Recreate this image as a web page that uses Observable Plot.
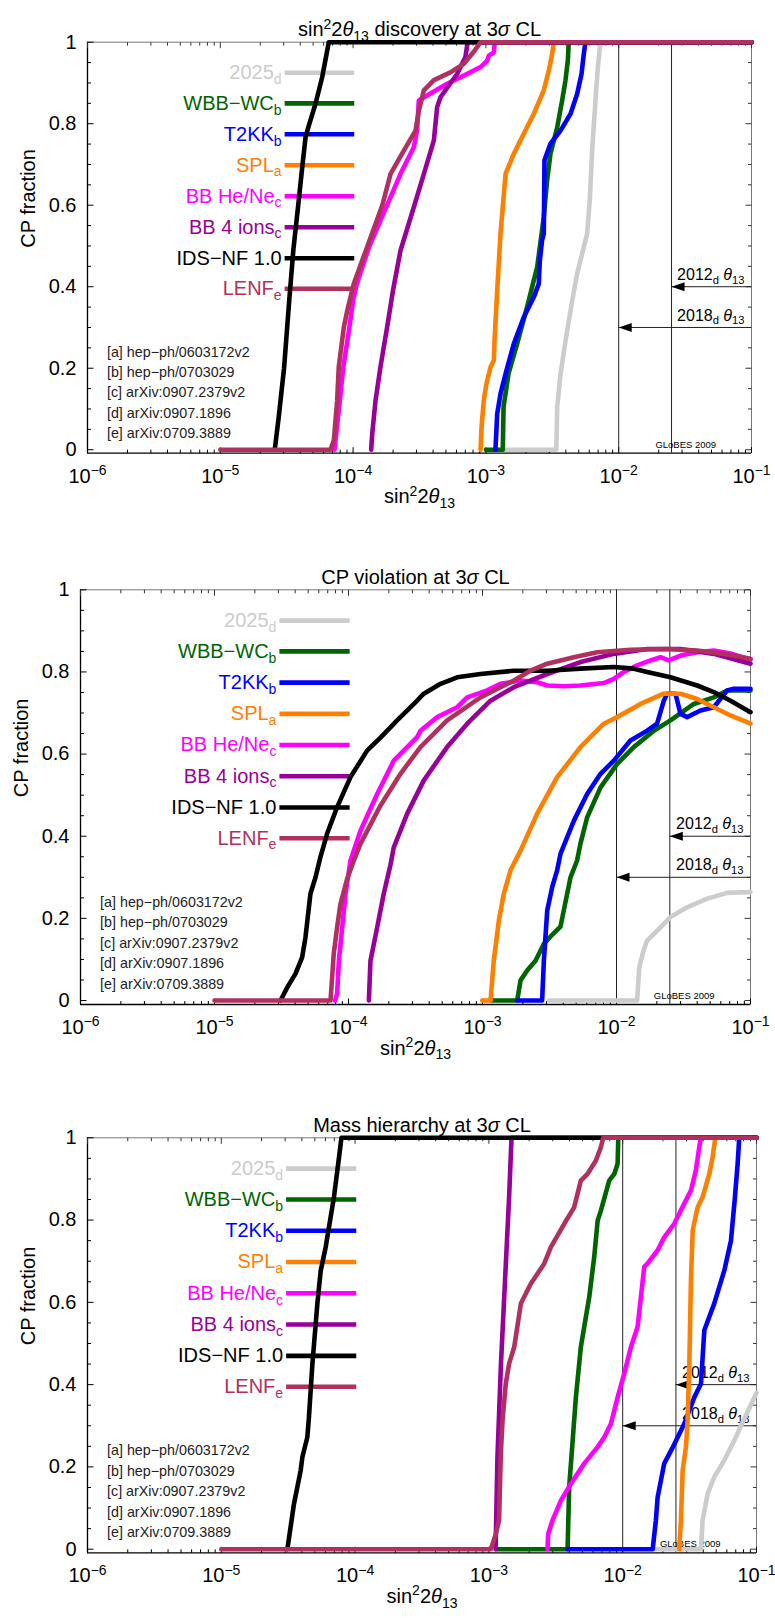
<!DOCTYPE html>
<html><head><meta charset="utf-8">
<script src="https://cdn.jsdelivr.net/npm/d3@7"></script>
<script src="https://cdn.jsdelivr.net/npm/@observablehq/plot@0.6"></script>
<style>
body{margin:0;background:#fff;}
#wrap{position:relative;width:775px;height:1618px;background:#fff;}
</style></head><body><div id="wrap"></div>
<script>
// ---------- series / categories ----------
const seriesNames = ["2025_{d}","WBB−WC_{b}","T2KK_{b}","SPL_{a}","BB He/Ne_{c}","BB 4 ions_{c}","IDS−NF 1.0","LENF_{e}"];
const seriesColors = ["#cccccc","#006400","#0000ff","#ff8000","#ff00ff","#990099","#000000","#b03060"];
const references = ["[a] hep−ph/0603172v2","[b] hep−ph/0703029","[c] arXiv:0907.2379v2","[d] arXiv:0907.1896","[e] arXiv:0709.3889"];
const legendY = [0.925,0.85,0.774,0.698,0.622,0.546,0.47,0.395];
const legendX = [3.05e-5,1.02e-4];
const thetaLimits = [{label:"2012_{d} *θ*_{13}", x:0.025, y:0.4},{label:"2018_{d} *θ*_{13}", x:0.01, y:0.3}];

// ---------- tick labels ----------
const xTickValues = [1e-6,1e-5,1e-4,1e-3,1e-2,1e-1];
const xTickLabels = ["10^{−6}","10^{−5}","10^{−4}","10^{−3}","10^{−2}","10^{−1}"];
const yTickValues = [0,0.2,0.4,0.6,0.8,1];
const yTickLabels = ["0","0.2","0.4","0.6","0.8","1"];

// ---------- data: [log10(sin^2 2θ13), CP fraction] ----------
// sin^2 2θ13 discovery
const disc2025 = [[-2.87,0],[-2.47,0],[-2.463,0.105],[-2.438,0.186],[-2.4,0.268],[-2.35,0.366],[-2.313,0.432],[-2.275,0.481],[-2.25,0.514],[-2.238,0.53],[-2.218,0.612],[-2.2,0.734],[-2.175,0.857],[-2.157,0.939],[-2.137,1],[-1,1]];
const discWBB = [[-3.0,0],[-2.873,0],[-2.867,0.105],[-2.83,0.186],[-2.765,0.26],[-2.69,0.35],[-2.614,0.448],[-2.564,0.571],[-2.539,0.661],[-2.514,0.726],[-2.463,0.791],[-2.426,0.857],[-2.401,0.906],[-2.383,0.955],[-2.376,1],[-1,1]];
const discT2KK = [[-2.928,0],[-2.915,0.088],[-2.89,0.137],[-2.852,0.186],[-2.79,0.26],[-2.715,0.325],[-2.64,0.374],[-2.602,0.407],[-2.594,0.464],[-2.577,0.514],[-2.564,0.53],[-2.559,0.71],[-2.514,0.751],[-2.438,0.783],[-2.363,0.824],[-2.313,0.873],[-2.28,0.922],[-2.263,0.971],[-2.25,1],[-1,1]];
const discSPL = [[-3.04,0],[-3.033,0.055],[-3.016,0.121],[-2.996,0.162],[-2.965,0.203],[-2.94,0.219],[-2.935,0.268],[-2.915,0.391],[-2.89,0.53],[-2.852,0.677],[-2.79,0.726],[-2.715,0.775],[-2.64,0.824],[-2.564,0.882],[-2.526,0.931],[-2.501,0.971],[-2.489,1],[-1,1]];
const discBBHe = [[-4.14,0],[-4.1,0.12],[-4.075,0.2],[-4.035,0.285],[-4.0,0.366],[-3.97,0.41],[-3.88,0.497],[-3.794,0.563],[-3.718,0.62],[-3.643,0.677],[-3.543,0.742],[-3.518,0.783],[-3.505,0.857],[-3.443,0.869],[-3.292,0.898],[-3.166,0.918],[-3.04,0.939],[-2.99,0.955],[-2.978,0.967],[-2.94,0.975],[-2.933,1],[-1,1]];
const discBB4 = [[-3.864,0],[-3.856,0.039],[-3.831,0.121],[-3.794,0.203],[-3.744,0.3],[-3.7,0.39],[-3.643,0.489],[-3.543,0.595],[-3.467,0.677],[-3.392,0.759],[-3.367,0.841],[-3.342,0.865],[-3.217,0.922],[-3.155,0.963],[-3.137,1],[-1,1]];
const discIDS = [[-4.59,0],[-4.56,0.08],[-4.52,0.2],[-4.48,0.37],[-4.45,0.49],[-4.41,0.61],[-4.383,0.693],[-4.358,0.767],[-4.333,0.796],[-4.283,0.849],[-4.233,0.914],[-4.183,1],[-1,1]];
const discLENF = [[-5,0],[-4.17,0],[-4.145,0.023],[-4.12,0.121],[-4.108,0.203],[-4.07,0.3],[-4.045,0.34],[-3.995,0.407],[-3.895,0.497],[-3.78,0.6],[-3.718,0.677],[-3.618,0.734],[-3.53,0.783],[-3.505,0.832],[-3.467,0.882],[-3.392,0.907],[-3.267,0.926],[-3.166,0.947],[-3.09,0.977],[-3.04,1],[-1,1]];

// CP violation
const cpv2025 = [[-2.505,0],[-1.846,0],[-1.84,0.03],[-1.83,0.08],[-1.8,0.12],[-1.771,0.146],[-1.672,0.178],[-1.597,0.203],[-1.473,0.227],[-1.323,0.248],[-1.174,0.262],[-1.0,0.264]];
const cpvWBB = [[-2.94,0],[-2.741,0],[-2.716,0.049],[-2.667,0.073],[-2.604,0.097],[-2.542,0.138],[-2.48,0.16],[-2.418,0.18],[-2.393,0.22],[-2.343,0.30],[-2.294,0.341],[-2.269,0.382],[-2.219,0.446],[-2.119,0.519],[-1.995,0.576],[-1.871,0.617],[-1.721,0.657],[-1.597,0.682],[-1.423,0.722],[-1.274,0.738],[-1.174,0.755],[-1.0,0.755]];
const cpvT2KK = [[-2.741,0],[-2.555,0],[-2.542,0.097],[-2.517,0.219],[-2.48,0.276],[-2.443,0.317],[-2.418,0.357],[-2.318,0.438],[-2.219,0.503],[-2.119,0.552],[-2.02,0.584],[-1.896,0.633],[-1.771,0.657],[-1.697,0.674],[-1.647,0.73],[-1.622,0.747],[-1.56,0.747],[-1.522,0.698],[-1.473,0.69],[-1.373,0.706],[-1.274,0.714],[-1.174,0.755],[-1.125,0.759],[-1.0,0.759]];
const cpvSPL = [[-3.002,0],[-2.94,0],[-2.916,0.097],[-2.878,0.195],[-2.841,0.26],[-2.791,0.317],[-2.716,0.365],[-2.592,0.455],[-2.443,0.544],[-2.269,0.617],[-2.095,0.674],[-1.995,0.69],[-1.821,0.722],[-1.647,0.747],[-1.522,0.747],[-1.398,0.734],[-1.274,0.714],[-1.149,0.694],[-1.0,0.674]];
const cpvBBHe = [[-4.1,0],[-4.085,0.016],[-4.072,0.097],[-4.047,0.178],[-4.022,0.26],[-3.985,0.341],[-3.91,0.414],[-3.786,0.503],[-3.662,0.584],[-3.562,0.617],[-3.488,0.641],[-3.463,0.657],[-3.338,0.69],[-3.189,0.714],[-3.114,0.738],[-2.965,0.755],[-2.866,0.771],[-2.716,0.779],[-2.592,0.775],[-2.517,0.767],[-2.393,0.765],[-2.269,0.767],[-2.095,0.773],[-2.02,0.783],[-1.945,0.80],[-1.846,0.816],[-1.746,0.828],[-1.672,0.836],[-1.61,0.828],[-1.522,0.84],[-1.398,0.848],[-1.274,0.852],[-1.15,0.845],[-1.0,0.83]];
const cpvBB4 = [[-3.848,0],[-3.836,0.097],[-3.786,0.178],[-3.737,0.26],[-3.687,0.33],[-3.662,0.373],[-3.562,0.455],[-3.438,0.536],[-3.264,0.617],[-3.114,0.674],[-2.94,0.73],[-2.766,0.763],[-2.517,0.795],[-2.269,0.824],[-2.02,0.844],[-1.771,0.856],[-1.522,0.856],[-1.274,0.844],[-1.0,0.82]];
const cpvIDS = [[-4.507,0],[-4.457,0.032],[-4.396,0.065],[-4.346,0.105],[-4.321,0.154],[-4.284,0.26],[-4.246,0.30],[-4.209,0.35],[-4.16,0.406],[-4.085,0.471],[-3.985,0.544],[-3.86,0.609],[-3.761,0.64],[-3.637,0.682],[-3.512,0.722],[-3.438,0.747],[-3.313,0.771],[-3.189,0.787],[-3.015,0.795],[-2.766,0.803],[-2.517,0.803],[-2.269,0.808],[-2.02,0.812],[-1.871,0.808],[-1.771,0.80],[-1.597,0.787],[-1.398,0.767],[-1.274,0.751],[-1.149,0.73],[-1.0,0.702]];
const cpvLENF = [[-5,0],[-4.134,0],[-4.122,0.057],[-4.11,0.114],[-4.085,0.178],[-4.06,0.235],[-4.01,0.296],[-3.96,0.341],[-3.91,0.382],[-3.761,0.475],[-3.612,0.552],[-3.463,0.617],[-3.264,0.682],[-3.015,0.738],[-2.766,0.779],[-2.642,0.803],[-2.517,0.82],[-2.318,0.836],[-2.144,0.848],[-1.896,0.854],[-1.622,0.856],[-1.398,0.852],[-1.199,0.844],[-1.0,0.832]];

// Mass hierarchy
const mh2025 = [[-1.776,0],[-1.415,0],[-1.403,0.07],[-1.365,0.135],[-1.316,0.175],[-1.241,0.216],[-1.166,0.264],[-1.116,0.3],[-1.05,0.345],[-1.0,0.38]];
const mhWBB = [[-2.948,0],[-2.412,0],[-2.4,0.151],[-2.375,0.26],[-2.35,0.369],[-2.313,0.491],[-2.25,0.613],[-2.213,0.71],[-2.187,0.799],[-2.163,0.823],[-2.101,0.896],[-2.063,0.912],[-2.038,0.937],[-2.033,1],[-1,1]];
const mhT2KK = [[-2.412,0],[-1.776,0],[-1.752,0.07],[-1.739,0.126],[-1.69,0.208],[-1.63,0.245],[-1.54,0.305],[-1.465,0.369],[-1.415,0.402],[-1.39,0.532],[-1.316,0.597],[-1.241,0.677],[-1.191,0.75],[-1.161,0.856],[-1.141,0.937],[-1.129,1],[-1,1]];
const mhSPL = [[-1.577,0],[-1.565,0.07],[-1.552,0.191],[-1.527,0.25],[-1.515,0.313],[-1.502,0.451],[-1.49,0.653],[-1.477,0.775],[-1.44,0.831],[-1.403,0.856],[-1.353,0.912],[-1.328,0.953],[-1.308,1],[-1,1]];
const mhBBHe = [[-2.562,0],[-2.557,0.037],[-2.525,0.07],[-2.462,0.118],[-2.387,0.159],[-2.288,0.208],[-2.188,0.248],[-2.138,0.272],[-2.088,0.305],[-2.038,0.369],[-1.989,0.426],[-1.939,0.491],[-1.889,0.54],[-1.864,0.613],[-1.839,0.686],[-1.815,0.694],[-1.74,0.726],[-1.69,0.758],[-1.615,0.791],[-1.54,0.84],[-1.49,0.872],[-1.453,0.921],[-1.428,0.977],[-1.415,1],[-1,1]];
const mhBB4 = [[-2.95,0],[-2.936,0.224],[-2.91,0.45],[-2.88,0.65],[-2.849,0.856],[-2.831,1],[-1,1]];
const mhIDS = [[-4.506,0],[-4.457,0.11],[-4.407,0.191],[-4.394,0.224],[-4.357,0.272],[-4.345,0.321],[-4.319,0.451],[-4.282,0.597],[-4.257,0.677],[-4.22,0.734],[-4.158,0.856],[-4.12,0.953],[-4.102,1],[-1,1]];
const mhLENF = [[-5,0],[-2.986,0],[-2.948,0.037],[-2.924,0.07],[-2.911,0.232],[-2.898,0.313],[-2.874,0.402],[-2.849,0.451],[-2.811,0.491],[-2.761,0.597],[-2.687,0.645],[-2.587,0.694],[-2.537,0.734],[-2.437,0.791],[-2.363,0.831],[-2.313,0.896],[-2.263,0.912],[-2.2,0.945],[-2.163,0.977],[-2.146,1],[-1,1]];

const FONT = '"Liberation Sans", Arial, Helvetica, sans-serif';
const SVGNS = "http://www.w3.org/2000/svg";

// rich text: ^{sup}, _{sub}, *italic*
function richify(el) {
  const s = el.textContent;
  if (!/(\^\{|_\{|\*)/.test(s)) return;
  const fs = parseFloat(getComputedStyle(el).fontSize) || 16;
  const parts = s.split(/(\^\{[^}]*\}|_\{[^}]*\}|\*[^*]*\*)/).filter(p => p !== "");
  el.textContent = "";
  el.setAttribute("style", (el.getAttribute("style") || "") + ";white-space:pre");
  let cur = 0;
  for (const p of parts) {
    const t = document.createElementNS(SVGNS, "tspan");
    let target = 0, str = p;
    if (p.startsWith("^{")) { target = -0.38 * fs; str = p.slice(2, -1); t.setAttribute("font-size", 0.7 * fs); }
    else if (p.startsWith("_{")) { target = 0.24 * fs; str = p.slice(2, -1); t.setAttribute("font-size", 0.7 * fs); }
    else if (p.startsWith("*")) { str = p.slice(1, -1); t.setAttribute("font-style", "italic"); }
    if (Math.abs(target - cur) > 1e-9) { t.setAttribute("dy", target - cur); cur = target; }
    t.textContent = str;
    el.appendChild(t);
  }
}

const tickSym = (dx, dy) => ({draw(ctx) { ctx.moveTo(0, 0); ctx.lineTo(dx, dy); }});
const arrowHead = {draw(ctx) { ctx.moveTo(0, 0); ctx.lineTo(13, -4.5); ctx.lineTo(13, 4.5); ctx.closePath(); }};

function panel(p) {
  const X0 = 1e-6, X1 = 0.1, Y0 = p.yMin, Y1 = 1;
  const rows = [];
  p.series.forEach((pts, i) => pts.forEach(([lx, y]) => rows.push({series: seriesNames[i], x: 10 ** lx, y})));
  const legRows = [];
  seriesNames.forEach((s, i) => legendX.forEach(x => legRows.push({series: s, x, y: legendY[i]})));
  const minorX = [];
  for (let e = -6; e < -1; e++) for (let k = 2; k < 10; k++) minorX.push(k * 10 ** e);
  const minorY = d3.range(1, 20).map(i => i * 0.05).filter(v => Math.abs(v * 5 - Math.round(v * 5)) > 1e-6);

  const svg = Plot.plot({
    width: 775, height: p.height,
    marginTop: p.marginTop, marginBottom: p.marginBottom, marginLeft: p.marginLeft, marginRight: p.marginRight,
    x: {type: "log", domain: [X0, X1], axis: null},
    y: {domain: [Y0, Y1], axis: null},
    color: {domain: seriesNames, range: seriesColors},
    style: {fontFamily: FONT, background: "transparent", overflow: "visible", color: "black"},
    marks: [
      // frame
      Plot.ruleY([Y1], {stroke: "#777", strokeWidth: 1}),
      Plot.ruleX([X1], {stroke: "#777", strokeWidth: 1}),
      Plot.ruleX([X0], {stroke: "black", strokeWidth: 1.3}),
      Plot.ruleY([Y0], {stroke: "black", strokeWidth: 1.3}),
      // ticks
      Plot.dot(xTickValues, {x: d => d, y: () => Y0, symbol: tickSym(0, -6), stroke: "black", fill: "none", strokeWidth: 1}),
      Plot.dot(minorX, {x: d => d, y: () => Y0, symbol: tickSym(0, -3.5), stroke: "black", fill: "none", strokeWidth: 1}),
      Plot.dot(xTickValues, {x: d => d, y: () => Y1, symbol: tickSym(0, 6), stroke: "#333", fill: "none", strokeWidth: 1}),
      Plot.dot(minorX, {x: d => d, y: () => Y1, symbol: tickSym(0, 3.5), stroke: "#333", fill: "none", strokeWidth: 1}),
      Plot.dot(yTickValues, {x: () => X0, y: d => d, symbol: tickSym(6, 0), stroke: "black", fill: "none", strokeWidth: 1}),
      Plot.dot(minorY, {x: () => X0, y: d => d, symbol: tickSym(3.5, 0), stroke: "black", fill: "none", strokeWidth: 1}),
      Plot.dot(yTickValues, {x: () => X1, y: d => d, symbol: tickSym(-6, 0), stroke: "#333", fill: "none", strokeWidth: 1}),
      Plot.dot(minorY, {x: () => X1, y: d => d, symbol: tickSym(-3.5, 0), stroke: "#333", fill: "none", strokeWidth: 1}),
      // tick labels
      Plot.text(xTickValues, {x: d => d, y: () => Y0, text: (d, i) => xTickLabels[i], dy: 23, fontSize: 20}),
      Plot.text(yTickValues, {x: () => X0, y: d => d, text: (d, i) => yTickLabels[i], textAnchor: "end", dx: -11, fontSize: 20}),
      // axis labels + title
      Plot.text(["sin^{2}2*θ*_{13}"], {frameAnchor: "bottom", text: d => d, dy: 50, fontSize: 20}),
      Plot.text(["CP fraction"], {frameAnchor: "left", text: d => d, rotate: -90, dx: -59, fontSize: 20}),
      Plot.text([p.title], {frameAnchor: "top", text: d => d, dy: -20, fontSize: 20}),
      // θ13 limits
      Plot.ruleX(thetaLimits, {x: "x", stroke: "#222", strokeWidth: 1}),
      Plot.ruleY(thetaLimits, {y: "y", x1: "x", x2: () => X1, stroke: "#222", strokeWidth: 1}),
      Plot.dot(thetaLimits, {x: "x", y: "y", symbol: arrowHead, fill: "black", stroke: "none"}),
      Plot.text(thetaLimits, {x: () => X1, y: "y", text: "label", textAnchor: "end", dx: -7, dy: -12, fontSize: 16}),
      Plot.text(["GLoBES 2009"], {x: () => 0.032, y: () => 0, text: d => d, dy: -5, fontSize: 9.5}),
      // references
      Plot.text(references, {x: () => 1.4e-6, y: (d, i) => 0.24 - 0.05 * i, text: d => d, textAnchor: "start", fontSize: 14.3, fill: "#222"}),
      // legend
      Plot.line(legRows, {x: "x", y: "y", z: "series", stroke: "series", strokeWidth: 4.6, strokeLinecap: "butt"}),
      Plot.text(seriesNames, {x: () => legendX[0], y: (d, i) => legendY[i], text: d => d, fill: d => d, textAnchor: "end", dx: -3, fontSize: 20}),
      // curves
      Plot.line(rows, {x: "x", y: "y", z: "series", stroke: "series", strokeWidth: 4.6, curve: "linear"})
    ]
  });
  svg.style.position = "absolute";
  svg.style.left = "0px";
  svg.style.top = p.top + "px";
  svg.style.overflow = "visible";
  svg.style.maxWidth = "none";
  document.getElementById("wrap").appendChild(svg);
  svg.querySelectorAll("text").forEach(richify);
}

panel({top: 0, height: 540, marginTop: 41.7, marginBottom: 87.3, marginLeft: 87, marginRight: 24, yMin: -0.0085,
  title: "sin^{2}2*θ*_{13} discovery at 3*σ* CL",
  series: [disc2025, discWBB, discT2KK, discSPL, discBBHe, discBB4, discIDS, discLENF]});
panel({top: 548, height: 540, marginTop: 41.3, marginBottom: 84, marginLeft: 80, marginRight: 25, yMin: -0.0097,
  title: "CP violation at 3*σ* CL",
  series: [cpv2025, cpvWBB, cpvT2KK, cpvSPL, cpvBBHe, cpvBB4, cpvIDS, cpvLENF]});
panel({top: 1096, height: 522, marginTop: 41.3, marginBottom: 65.7, marginLeft: 87, marginRight: 19, yMin: -0.0088,
  title: "Mass hierarchy at 3*σ* CL",
  series: [mh2025, mhWBB, mhT2KK, mhSPL, mhBBHe, mhBB4, mhIDS, mhLENF]});
</script></body></html>
